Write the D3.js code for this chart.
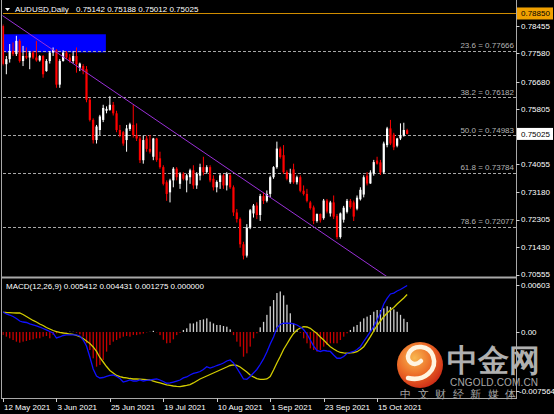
<!DOCTYPE html>
<html><head><meta charset="utf-8">
<script src="https://cdn.jsdelivr.net/npm/d3@7"></script>
<style>
html,body{margin:0;padding:0;background:#000;}
svg{display:block;}
text{font-family:"Liberation Sans",Arial,sans-serif;}
</style></head><body>
<svg id="c" width="554" height="414"></svg>
<script>
const opens=[.7845,.7724,.7740,.7766,.7756,.7798,.7734,.7750,.7745,.7761,
.7745,.7736,.7750,.7702,.7734,.7761,.7768,.7659,.7734,.7761,
.7745,.7734,.7750,.7713,.7718,.7708,.7611,.7547,.7483,.7515,
.7547,.7576,.7579,.7595,.7568,.7515,.7508,.7483,.7518,.7531,
.7499,.7488,.7419,.7488,.7455,.7430,.7488,.7425,.7397,.7349,
.7317,.7355,.7392,.7344,.7376,.7355,.7365,.7387,.7339,.7370,
.7397,.7381,.7397,.7360,.7333,.7350,.7371,.7339,.7371,.7333,
.7253,.7232,.7152,.7116,.7205,.7250,.7275,.7245,.7305,.7290,
.7312,.7365,.7397,.7456,.7435,.7381,.7349,.7390,.7349,.7365,
.7322,.7312,.7285,.7269,.7226,.7248,.7235,.7291,.7250,.7285,
.7242,.7175,.7230,.7255,.7290,.7285,.7265,.7295,.7310,.7370,
.7345,.7376,.7418,.7412,.7380,.7467,.7520,.7500,.7465,.7488,
.7497,.75142];
const highs=[.7850,.7750,.7788,.7793,.7814,.7803,.7782,.7777,.7766,.7766,
.7798,.7753,.7753,.7740,.7766,.7777,.7772,.7740,.7768,.7766,
.7756,.7766,.7777,.7729,.7724,.7718,.7617,.7552,.7531,.7563,
.7595,.7590,.7622,.7604,.7576,.7531,.7512,.7531,.7538,.7595,
.7536,.7495,.7497,.7497,.7499,.7490,.7490,.7446,.7403,.7355,
.7360,.7397,.7397,.7381,.7381,.7376,.7392,.7403,.7381,.7408,
.7430,.7403,.7403,.7371,.7355,.7376,.7375,.7381,.7376,.7339,
.7264,.7237,.7160,.7216,.7264,.7280,.7285,.7312,.7317,.7323,
.7370,.7400,.7478,.7462,.7467,.7387,.7392,.7408,.7370,.7371,
.7339,.7328,.7290,.7275,.7250,.7250,.7296,.7296,.7290,.7307,
.7248,.7253,.7274,.7296,.7296,.7291,.7307,.7333,.7371,.7381,
.7387,.7420,.7430,.7420,.7478,.7525,.7547,.7506,.7490,.7536,
.7538,.75188];
const lows=[.7720,.7692,.7729,.7750,.7750,.7729,.7718,.7740,.7708,.7740,
.7732,.7732,.7681,.7700,.7726,.7750,.7649,.7649,.7732,.7740,
.7729,.7726,.7697,.7702,.7692,.7603,.7542,.7472,.7472,.7499,
.7540,.7568,.7576,.7561,.7508,.7492,.7465,.7446,.7512,.7491,
.7480,.7410,.7408,.7446,.7440,.7419,.7414,.7392,.7339,.7290,
.7285,.7333,.7355,.7328,.7355,.7317,.7344,.7328,.7328,.7355,
.7371,.7376,.7349,.7323,.7317,.7328,.7328,.7323,.7328,.7242,
.7221,.7141,.7104,.7110,.7200,.7237,.7232,.7226,.7280,.7285,
.7301,.7360,.7392,.7424,.7376,.7355,.7344,.7344,.7342,.7317,
.7307,.7285,.7262,.7216,.7221,.7221,.7230,.7250,.7240,.7232,
.7168,.7170,.7221,.7250,.7265,.7226,.7260,.7291,.7301,.7339,
.7344,.7370,.7405,.7372,.7375,.7460,.7467,.7451,.7460,.7483,
.7494,.75012];
const closes=[.7725,.7740,.7766,.7756,.7798,.7734,.7750,.7745,.7761,.7745,
.7736,.7750,.7692,.7734,.7761,.7768,.7659,.7734,.7761,.7745,
.7734,.7750,.7724,.7726,.7702,.7611,.7547,.7483,.7526,.7558,
.7585,.7582,.7595,.7568,.7515,.7499,.7472,.7520,.7533,.7499,
.7488,.7419,.7483,.7455,.7446,.7488,.7420,.7397,.7344,.7312,
.7355,.7392,.7365,.7376,.7360,.7371,.7387,.7339,.7376,.7397,
.7381,.7397,.7355,.7333,.7350,.7371,.7339,.7376,.7333,.7253,
.7232,.7152,.7116,.7205,.7260,.7275,.7245,.7305,.7290,.7312,
.7365,.7397,.7456,.7429,.7381,.7360,.7376,.7349,.7365,.7322,
.7312,.7290,.7267,.7226,.7248,.7228,.7291,.7256,.7285,.7240,
.7175,.7250,.7268,.7290,.7270,.7240,.7300,.7325,.7365,.7345,
.7380,.7413,.7408,.7380,.7472,.7520,.7472,.7460,.7488,.7499,
.7515,.75025];

const macdMain=[0.00257,0.00231,0.00218,0.00199,0.00173,0.00141,0.00128,0.00122,0.00103,0.0009,
0.00077,0.00064,0.00045,0.00026,0.00006,-0.00013,-0.00077,-0.00064,-0.00045,-0.00038,
-0.00038,-0.00038,-0.00038,-0.00051,-0.00103,-0.0018,-0.00321,-0.00475,-0.00565,-0.0059,
-0.00584,-0.00571,-0.00558,-0.00552,-0.00571,-0.00597,-0.00642,-0.00629,-0.00616,-0.00629,
-0.00629,-0.00616,-0.00629,-0.00622,-0.00616,-0.00609,-0.00603,-0.00616,-0.00635,-0.00658,
-0.00654,-0.00642,-0.00629,-0.00616,-0.0059,-0.00577,-0.00552,-0.00532,-0.0052,-0.00507,
-0.00481,-0.00445,-0.00462,-0.00449,-0.0043,-0.00417,-0.00398,-0.00372,-0.00359,-0.00398,
-0.00462,-0.0053,-0.00603,-0.00607,-0.00571,-0.00526,-0.00481,-0.00417,-0.00346,-0.00257,
-0.00154,-0.00064,0.00051,0.00096,0.00112,0.00112,0.00112,0.00103,0.0009,0.00064,
0.00032,-0.00026,-0.00103,-0.0018,-0.00237,-0.0025,-0.00237,-0.00244,-0.0025,-0.00295,
-0.00337,-0.00337,-0.00314,-0.00276,-0.0026,-0.0025,-0.00225,-0.00189,-0.00122,-0.0006,
0.00006,0.00068,0.00154,0.0024,0.00359,0.00432,0.00488,0.005,0.00526,0.00545,
0.00571,0.00597];
const macdSignal=[0.00253,0.0025,0.00249,0.00246,0.00244,0.00244,0.00225,0.00199,0.00173,0.00148,
0.00128,0.00103,0.00083,0.00058,0.00038,0.00019,0.00006,-0.00006,-0.00013,-0.00019,
-0.00026,-0.0003,-0.00045,-0.0006,-0.00083,-0.00115,-0.00148,-0.00192,-0.0025,-0.00327,
-0.00385,-0.00443,-0.00494,-0.00526,-0.00558,-0.00574,-0.00584,-0.0059,-0.00597,-0.00603,
-0.00603,-0.00606,-0.00609,-0.00612,-0.00616,-0.00629,-0.00642,-0.00654,-0.00667,-0.0068,
-0.00686,-0.00693,-0.00699,-0.00702,-0.00693,-0.00686,-0.00674,-0.00654,-0.00629,-0.00603,
-0.00584,-0.00565,-0.00545,-0.00526,-0.00507,-0.00488,-0.00468,-0.00449,-0.0043,-0.00423,
-0.0043,-0.00449,-0.00481,-0.00513,-0.00552,-0.00577,-0.00597,-0.00607,-0.00609,-0.00603,
-0.00571,-0.00488,-0.00398,-0.00314,-0.00225,-0.00154,-0.00081,-0.00019,0.00026,0.00051,
0.00068,0.00064,0.00047,0.00013,-0.00019,-0.00064,-0.00103,-0.00148,-0.00189,-0.00218,
-0.00244,-0.00263,-0.00269,-0.00273,-0.00269,-0.00263,-0.00253,-0.00225,-0.00189,-0.00128,
-0.0006,0.00013,0.00083,0.00141,0.00196,0.00244,0.00282,0.00314,0.00359,0.00398,
0.00436,0.00481];
const macdHist=[-0.00038,-0.0006,-0.00081,-0.00103,-0.00124,-0.00137,-0.00124,-0.00115,-0.00103,-0.00094,
-0.00081,-0.00081,-0.0006,-0.00051,-0.00081,-0.00038,-0.00017,-0.00017,-0.00009,-0.00004,
0.00003,0.00002,-0.00009,-0.0003,-0.0006,-0.00145,-0.00231,-0.00338,-0.00445,-0.00423,
-0.00359,-0.00252,-0.00167,-0.00124,-0.00103,-0.00081,-0.0006,-0.00051,-0.0006,-0.00038,
-0.0004,-0.0003,-0.0002,-0.00005,0.00002,0.00015,-0.00005,-0.0004,-0.001,-0.00145,
-0.0014,-0.00094,-0.0004,-0.0001,0.00026,0.00047,0.0011,0.0011,0.00132,0.00154,
0.00162,0.00175,0.00132,0.0011,0.0009,0.0009,0.00077,0.00068,0.00034,-0.0004,
-0.00124,-0.00188,-0.00317,-0.00274,-0.00188,-0.00081,-0.00017,0.0006,0.0013,0.0022,
0.0033,0.0041,0.005,0.0052,0.0047,0.0035,0.0024,0.0011,0.00026,-0.0001,
-0.00081,-0.00145,-0.0021,-0.00231,-0.00252,-0.00231,-0.00188,-0.00167,-0.00145,-0.00145,
-0.00145,-0.00103,-0.0006,-0.00017,0.00026,0.00068,0.0009,0.00132,0.00175,0.00197,
0.00218,0.0026,0.00282,0.00282,0.00304,0.0033,0.0032,0.0029,0.0026,0.0022,
0.0017,0.001275];

const dateTickIndex=[0,16,32,48,64,80,96,112];
const dateTickLabels=["12 May 2021","3 Jun 2021","25 Jun 2021","19 Jul 2021","10 Aug 2021","1 Sep 2021","23 Sep 2021","15 Oct 2021"];
const priceTicks=[0.78455,0.77580,0.76680,0.75805,0.74055,0.73180,0.72305,0.71430,0.70555];
const macdTicks=[0.00603,0,-0.007564];
const macdTickLabels=["0.00603","0.00","-0.007564"];
const fibLevels=[23.6,38.2,50.0,61.8,78.6];
const fibPrices=[0.77666,0.76182,0.74983,0.73784,0.72077];
const highLevel=0.78850;
const lastPrice=0.75025;
const zoneIdx=[0,30.8];
const zonePrice=[0.78190,0.77615];
const trendIdx=[0,115];
const trendPrice=[0.7877,0.7049];
const titleText="AUDUSD,Daily";
const titleValues="0.75142 0.75188 0.75012 0.75025";
const macdTitle="MACD(12,26,9) 0.005412 0.004431 0.001275 0.000000";

const svg=d3.select("#c");
svg.append("rect").attr("width",554).attr("height",414).attr("fill","#000");

const n=closes.length;
const idx=d3.range(n);
const x=d3.scaleLinear().domain([0,121]).range([3,407.14]);
const y=d3.scaleLinear().domain([0.70513,0.79278]).range([276,0]);
const ym=d3.scaleLinear().domain([-0.00847,0.0068]).range([398,279]);

const defs=svg.append("defs");
defs.append("clipPath").attr("id","cm").append("rect").attr("x",2.5).attr("y",0).attr("width",513.5).attr("height",276);
defs.append("clipPath").attr("id","cs").append("rect").attr("x",2.5).attr("y",279).attr("width",513.5).attr("height",119);

const main=svg.append("g").attr("clip-path","url(#cm)");

main.append("rect")
  .attr("x",x(zoneIdx[0])).attr("width",x(zoneIdx[1])-x(zoneIdx[0]))
  .attr("y",y(zonePrice[0])).attr("height",y(zonePrice[1])-y(zonePrice[0]))
  .attr("fill","#0000ff");

main.selectAll("line.fib").data(fibPrices).join("line").attr("class","fib")
  .attr("x1",3).attr("x2",516).attr("y1",d=>Math.round(y(d))+0.5).attr("y2",d=>Math.round(y(d))+0.5)
  .attr("stroke","#a8a8a8").attr("stroke-width",1).attr("stroke-dasharray","3,2");

main.append("line").attr("x1",3).attr("x2",516)
  .attr("y1",Math.round(y(highLevel))+0.5).attr("y2",Math.round(y(highLevel))+0.5)
  .attr("stroke","#d08c00").attr("stroke-width",1);

const cg=main.append("g");
cg.selectAll("line.w").data(idx).join("line").attr("class","w")
  .attr("x1",i=>x(i)).attr("x2",i=>x(i))
  .attr("y1",i=>y(highs[i])).attr("y2",i=>y(lows[i]))
  .attr("stroke",i=>closes[i]>=opens[i]?"#ffffff":"#ff0000").attr("stroke-width",1);
cg.selectAll("rect.b").data(idx).join("rect").attr("class","b")
  .attr("x",i=>x(i)-1.1).attr("width",2.2)
  .attr("y",i=>y(Math.max(opens[i],closes[i])))
  .attr("height",i=>Math.max(1,Math.abs(y(opens[i])-y(closes[i]))))
  .attr("fill",i=>closes[i]>=opens[i]?"#ffffff":"#ff0000");

const slope=(trendPrice[1]-trendPrice[0])/(trendIdx[1]-trendIdx[0]);
main.append("line")
  .attr("x1",x(-1)).attr("y1",y(trendPrice[0]-slope))
  .attr("x2",x(140)).attr("y2",y(trendPrice[0]+slope*140))
  .attr("stroke","#9a30d8").attr("stroke-width",1);

svg.selectAll("text.fibl").data(fibLevels).join("text").attr("class","fibl")
  .attr("x",514).attr("y",(d,k)=>y(fibPrices[k])-2.5).attr("text-anchor","end")
  .attr("font-size","8px").attr("fill","#b4b4b4")
  .text((d,k)=>d.toFixed(1)+" = "+fibPrices[k].toFixed(5));

svg.append("path").attr("d","M5,8 L10,8 L7.5,11 Z").attr("fill","#ffffff");
const tt=svg.append("text").attr("y",12).attr("font-size","8px").attr("fill","#ffffff");
tt.append("tspan").attr("x",15).text(titleText);
tt.append("tspan").attr("x",76).text(titleValues);

const sub=svg.append("g").attr("clip-path","url(#cs)");
sub.selectAll("rect.h").data(idx).join("rect").attr("class","h")
  .attr("x",i=>x(i)-0.6).attr("width",1.3)
  .attr("y",i=>Math.min(ym(0),ym(macdHist[i])))
  .attr("height",i=>Math.abs(ym(macdHist[i])-ym(0)))
  .attr("fill",i=>macdHist[i]>=0?"#cfcfcf":"#c80000");
sub.append("path").datum(idx)
  .attr("d",d3.line().x(i=>x(i)).y(i=>ym(macdSignal[i])))
  .attr("fill","none").attr("stroke","#d2cc00").attr("stroke-width",1.3);
sub.append("path").datum(idx)
  .attr("d",d3.line().x(i=>x(i)).y(i=>ym(macdMain[i])))
  .attr("fill","none").attr("stroke","#1010ff").attr("stroke-width",1.3);
svg.append("text").attr("x",6).attr("y",288.5).attr("font-size","8px").attr("fill","#ffffff").text(macdTitle);

svg.append("rect").attr("x",1).attr("y",276.5).attr("width",516).attr("height",2).attr("fill","#a8a8a8");
svg.append("line").attr("x1",516.5).attr("x2",516.5).attr("y1",0).attr("y2",399).attr("stroke","#a8a8a8");
svg.append("line").attr("x1",1.5).attr("x2",1.5).attr("y1",0).attr("y2",399).attr("stroke","#a8a8a8");
svg.append("line").attr("x1",1).attr("x2",517).attr("y1",398.5).attr("y2",398.5).attr("stroke","#a8a8a8");

const pa=svg.append("g");
pa.selectAll("line").data(priceTicks).join("line")
  .attr("x1",516).attr("x2",519.5).attr("y1",d=>Math.round(y(d))+0.5).attr("y2",d=>Math.round(y(d))+0.5)
  .attr("stroke","#d0d0d0");
pa.selectAll("text").data(priceTicks).join("text")
  .attr("x",521).attr("y",d=>y(d)).attr("dy","0.35em").attr("font-size","8px").attr("fill","#ffffff")
  .text(d=>d.toFixed(5));

svg.append("rect").attr("x",517).attr("y",y(highLevel)-6).attr("width",36).attr("height",12).attr("fill","#f0a000");
svg.append("text").attr("x",521).attr("y",y(highLevel)).attr("dy","0.35em").attr("font-size","8px").attr("fill","#000").text(highLevel.toFixed(5));
svg.append("rect").attr("x",517).attr("y",y(lastPrice)-6).attr("width",36).attr("height",12).attr("fill","#ffffff");
svg.append("text").attr("x",521).attr("y",y(lastPrice)).attr("dy","0.35em").attr("font-size","8px").attr("fill","#000").text(lastPrice.toFixed(5));

const ma=svg.append("g");
ma.selectAll("line").data(macdTicks).join("line")
  .attr("x1",516).attr("x2",519.5).attr("y1",d=>Math.round(ym(d))+0.5).attr("y2",d=>Math.round(ym(d))+0.5)
  .attr("stroke","#d0d0d0");
ma.selectAll("text").data(macdTicks).join("text")
  .attr("x",(d,k)=>k===2?519:521).attr("y",d=>ym(d)).attr("dy","0.35em").attr("font-size","8px").attr("fill","#ffffff")
  .text((d,k)=>macdTickLabels[k]);

const da=svg.append("g");
da.selectAll("line").data(dateTickIndex).join("line")
  .attr("x1",i=>Math.round(x(i))+0.5).attr("x2",i=>Math.round(x(i))+0.5).attr("y1",398.5).attr("y2",402)
  .attr("stroke","#d0d0d0");
da.selectAll("text").data(dateTickIndex).join("text")
  .attr("x",i=>x(i)+1).attr("y",409.5).attr("font-size","8px").attr("fill","#ffffff")
  .text((d,k)=>dateTickLabels[k]);

const grad=defs.append("radialGradient").attr("id","lg").attr("cx","38%").attr("cy","35%").attr("r","70%");
grad.append("stop").attr("offset","0%").attr("stop-color","#f8b850");
grad.append("stop").attr("offset","55%").attr("stop-color","#ec6a26");
grad.append("stop").attr("offset","100%").attr("stop-color","#cc2a16");
const wm=svg.append("g");
wm.append("circle").attr("cx",420).attr("cy",365).attr("r",23).attr("fill","url(#lg)");
wm.append("path").attr("d","M408,378 C424,382 438,370 433,356 C429,345 414,344 409,353 C405,361 414,368 421,361")
  .attr("fill","none").attr("stroke","#fff4e0").attr("stroke-width",4.5).attr("stroke-linecap","round");
wm.append("text").attr("x",447).attr("y",371).attr("font-size","31px").attr("font-weight","bold")
  .attr("font-family","'Noto Sans CJK SC',sans-serif").attr("fill","#b0b0b0")
  .attr("textLength",93).attr("lengthAdjust","spacingAndGlyphs").text("中金网");
wm.append("text").attr("x",450).attr("y",385.5).attr("font-size","10px")
  .attr("fill","#a8a8a8").attr("textLength",88).attr("lengthAdjust","spacing").text("CNGOLD.COM.CN");
wm.append("text").attr("x",400).attr("y",397.5).attr("font-size","11px")
  .attr("font-family","'Noto Sans CJK SC',sans-serif").attr("fill","#a8a8a8")
  .attr("textLength",116).attr("lengthAdjust","spacing").text("中文财经新媒体");
</script>
</body></html>
